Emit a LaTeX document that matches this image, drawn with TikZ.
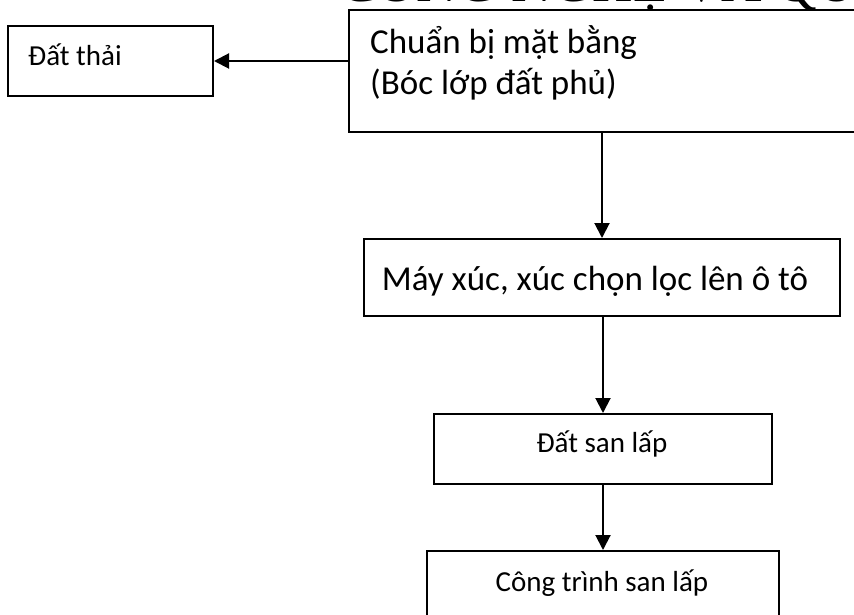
\documentclass[tikz,border=0pt]{standalone}
\usepackage{fontspec}
\setmainfont{Carlito}
\newfontfamily\titlefont{Liberation Serif}
\usetikzlibrary{arrows.meta}
\begin{document}
\begin{tikzpicture}[x=1pt,y=-1pt,
  box/.style={draw=black,line width=2pt,inner sep=0pt,anchor=north west},
  arr/.style={-{Triangle[length=15pt,width=15pt]},line width=2pt},
  bigtxt/.style={font=\fontsize{35}{41}\selectfont,inner sep=0pt},
  smalltxt/.style={font=\fontsize{29}{35}\selectfont,inner sep=0pt}]
\useasboundingbox (0,0) rectangle (854,615);
% title, mostly cut off at the top edge
\node[anchor=base west,inner sep=0pt,font=\titlefont\fontsize{56}{60}\selectfont] (title) at (339,1.5) {CÔNG NGHỆ VÀ QUY};
% boxes
\node[box,minimum width=530pt,minimum height=122pt] (prep) at (348,9) {};
\node[box,minimum width=205pt,minimum height=70pt] (dthai) at (7,25) {};
\node[box,minimum width=476pt,minimum height=77pt] (may) at (363,238) {};
\node[box,minimum width=338pt,minimum height=70pt] (dsl) at (433,413) {};
\node[box,minimum width=352pt,minimum height=90pt] (ctsl) at (426,550) {};
% texts
\node[bigtxt,anchor=base west] (prepA) at (370,54) {Chuẩn bị mặt bằng};
\node[bigtxt,anchor=base west] (prepB) at (370,95) {(Bóc lớp đất phủ)};
\node[smalltxt,anchor=base west] (dthaiT) at (28,66) {Đất thải};
\node[bigtxt,anchor=base] (mayT) at (595,290) {Máy xúc, xúc chọn lọc lên ô tô};
\node[smalltxt,anchor=base] (dslT) at (602,452) {Đất san lấp};
\node[smalltxt,anchor=base] (ctslT) at (602,591) {Công trình san lấp};
% connectors
\draw[arr] (prep.west |- dthai.east) -- (dthai.east);
\draw[arr] (prep.south -| may.north) -- (may.north);
\draw[arr] (may.south -| dsl.north) -- (dsl.north);
\draw[arr] (dsl.south) -- (ctsl.north);
\end{tikzpicture}
\end{document}
